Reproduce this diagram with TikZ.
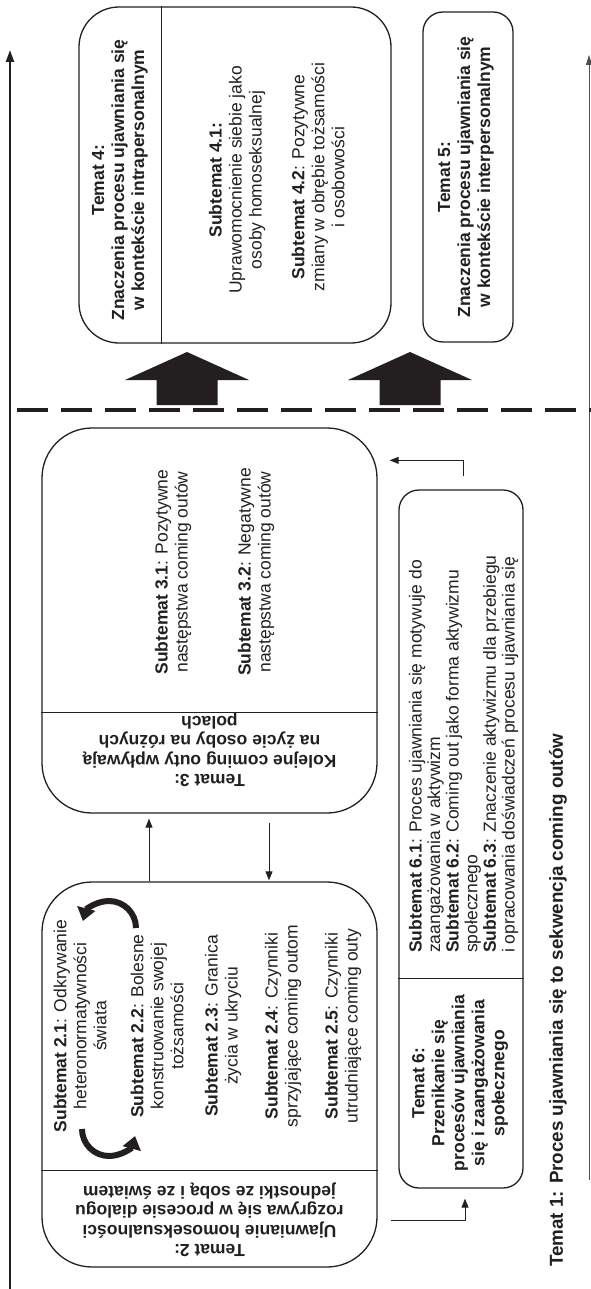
\documentclass[tikz,border=0pt]{standalone}
\usepackage{fontspec}
\setmainfont{Liberation Sans}
\usetikzlibrary{arrows.meta}

\definecolor{ink}{RGB}{35,31,32}

\tikzset{
  temat/.style={draw=ink, line width=1.3pt, rounded corners=#1, inner sep=0pt},
  txt/.style={text=ink, font=\fontsize{17.5}{20}\selectfont, align=center, inner sep=0pt},
  vtext/.style={txt, rotate=90},
  vhead/.style={vtext, font=\fontsize{17.5}{20}\selectfont\bfseries},
  ftext/.style={txt, font=\fontsize{17.5}{19.5}\selectfont\bfseries, rotate=180},
  conn/.style={draw=ink, line width=0.9pt, -{Triangle[width=7pt,length=9pt]}},
  cycle arrow/.style={draw=ink, line width=6pt, -{Triangle[width=18pt,length=13pt]}},
  sepline/.style={draw=ink, line width=1pt}
}

\begin{document}
\begin{tikzpicture}[x=1pt,y=1pt]

      % page frame
      \useasboundingbox (0,0) rectangle (591,-1289);

      % draw side lines
      \coordinate (leftlow) at (10,-1289);
      \coordinate (lefttop) at (10,-50);
      \coordinate (rightlow) at (589,-1180);
      \coordinate (righttop) at (589,-55);
      \draw[ink, line width=2.2pt, -{Triangle[width=8pt,length=12pt]}] (leftlow) -- (lefttop);
      \draw[ink!80, line width=0.8pt, -{Triangle[width=6pt,length=10pt]}] (rightlow) -- (righttop);

      % draw dashed line
      \draw[ink, line width=3.5pt, dash pattern=on 31pt off 13pt] (17,-410) -- (591,-410);

      % draw big arrows
      \foreach \x in {187,410}
      \fill[ink] (\x,-352) -- ++(62,-28) -- ++(-31.5,0) -- ++(0,-25) -- ++(-61,0) -- ++(0,25) -- ++(-31.5,0) -- cycle;

      % draw boxes
      \node[temat=50pt, minimum width=335pt, minimum height=385pt] (tema2) at (209.5,-1074.5) {};
      \node[temat=50pt, minimum width=335pt, minimum height=385pt] (tema3) at (209.5,-620.5) {};
      \node[temat=40pt, minimum width=312pt, minimum height=336pt] (tema4) at (235,-175) {};
      \node[temat=20pt, minimum width=90pt, minimum height=330pt] (tema5) at (468,-177) {};
      \node[temat=20pt, minimum width=124pt, minimum height=698pt] (tema6) at (461,-839) {};

      % draw separators
      \draw[sepline] ([yshift=97pt]tema2.south west) -- ([yshift=97pt]tema2.south east);
      \draw[sepline] ([yshift=101pt]tema3.south west) -- ([yshift=101pt]tema3.south east);
      \draw[sepline] ([xshift=83pt]tema4.north west) -- ([xshift=83pt]tema4.south west);
      \draw[sepline] ([yshift=210pt]tema6.south west) -- ([yshift=210pt]tema6.south east);

      % temat 2
      \node[ftext] (head2) at (209.5,-1220) {Temat 2:\\ Ujawnianie homoseksualności\\ rozgrywa się w procesie dialogu\\ jednostki ze sobą i ze światem};
      \node[vtext] (sub21) at (80,-1026) {\textbf{Subtemat 2.1}: Odkrywanie\\ heteronormatywności\\ świata};
      \node[vtext] (sub22) at (157,-1026) {\textbf{Subtemat 2.2}: Bolesne\\ konstruowanie swojej\\ tożsamości};
      \node[vtext] (sub23) at (223,-1026) {\textbf{Subtemat 2.3}: Granica\\ życia w ukryciu};
      \node[vtext] (sub24) at (283,-1026) {\textbf{Subtemat 2.4}: Czynniki\\ sprzyjające coming outom};
      \node[vtext] (sub25) at (343,-1026) {\textbf{Subtemat 2.5}: Czynniki\\ utrudniające coming outy};

      % temat 3
      \node[ftext] (head3) at (209.5,-750) {Temat 3:\\ Kolejne coming outy wpływają\\ na życie osoby na różnych\\ polach};
      \node[vtext] (sub31) at (173,-572) {\textbf{Subtemat 3.1}: Pozytywne\\ następstwa coming outów};
      \node[vtext] (sub32) at (256,-572) {\textbf{Subtemat 3.2}: Negatywne\\ następstwa coming outów};

      % temat 4 and 5
      \node[vhead] (head4) at (120,-180) {Temat 4:\\ Znaczenia procesu ujawniania się\\ w kontekście intrapersonalnym};
      \node[vtext] (sub41) at (237,-180) {\textbf{Subtemat 4.1:}\\ Uprawomocnienie siebie jako\\ osoby homoseksualnej};
      \node[vtext] (sub42) at (318,-177) {\textbf{Subtemat 4.2}: Pozytywne\\ zmiany w obrębie tożsamości\\ i osobowości};
      \node[vhead] (head5) at (466,-177) {Temat 5:\\ Znaczenia procesu ujawniania się\\ w kontekście interpersonalnym};

      % temat 6
      \node[vhead] (head6) at (460,-1083) {Temat 6:\\ Przenikanie się\\ procesów ujawniania\\ się i zaangażowania\\ społecznego};
      \node[vtext, align=left, font=\fontsize{17.5}{18.6}\selectfont, anchor=west] (sub6) at (463.5,-953) {\textbf{Subtemat 6.1}: Proces ujawniania się motywuje do\\ zaangażowania w aktywizm\\ \textbf{Subtemat 6.2}: Coming out jako forma aktywizmu\\ społecznego\\ \textbf{Subtemat 6.3}: Znaczenie aktywizmu dla przebiegu\\ i opracowania doświadczeń procesu ujawniania się};

      % temat 1
      \node[vtext, font=\fontsize{18.8}{22}\selectfont\bfseries, anchor=west] (tema1) at (558,-1267) {Temat 1: Proces ujawniania się to sekwencja coming outów};

      % draw connectors
      \draw[conn, shorten >=5pt] ([xshift=-60.5pt]tema2.north) -- ([xshift=-60.5pt]tema3.south);
      \draw[conn, shorten <=9pt, shorten >=1pt] ([xshift=59.5pt]tema3.south) -- ([xshift=59.5pt]tema2.north);
      \draw[conn, shorten <=13pt, shorten >=10pt] (tema2.east |- head2.center) -| ([xshift=4pt]tema6.south);
      \draw[conn, shorten <=13pt, shorten >=12pt] ([xshift=2pt]tema6.north) |- ([yshift=-33pt]tema3.north east);

      % draw cycle between 2.1 and 2.2
      \coordinate (cyctop) at (136,-928);
      \coordinate (cyclow) at (82,-1129);
      \draw[cycle arrow] (cyctop) arc[start angle=0, end angle=165, radius=27];
      \draw[cycle arrow] (cyclow) arc[start angle=180, end angle=345, radius=27];

     \end{tikzpicture}
\end{document}
